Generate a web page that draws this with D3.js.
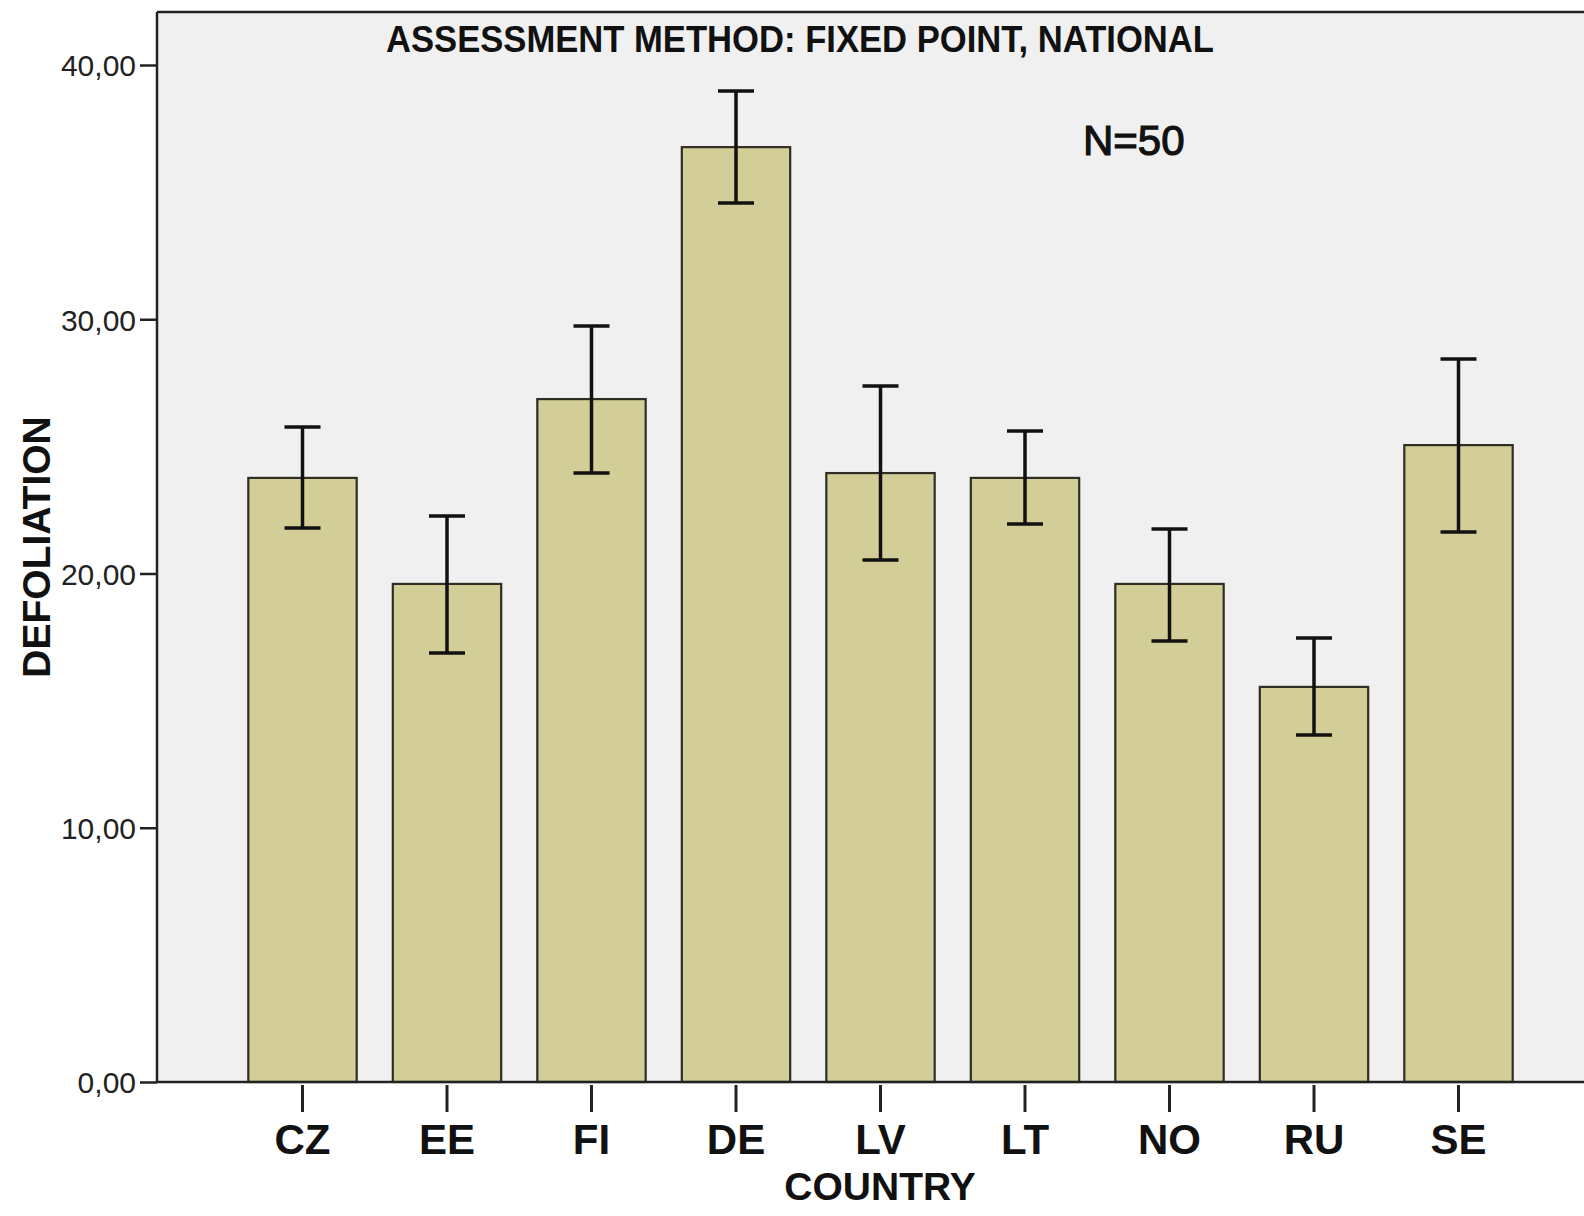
<!DOCTYPE html>
<html>
<head>
<meta charset="utf-8">
<script src="https://cdn.jsdelivr.net/npm/d3@7"></script>
<style>
  body { margin: 0; background: #fff; }
  text { font-family: "Liberation Sans", Arial, sans-serif; }
</style>
</head>
<body>
<svg class="chart-svg"></svg>
<script>
const WIDTH = 1584;
const HEIGHT = 1216;

const countries = ["CZ", "EE", "FI", "DE", "LV", "LT", "NO", "RU", "SE"];
const means = [23.76, 19.59, 26.86, 36.77, 23.95, 23.76, 19.59, 15.54, 25.05];
const errLow = [21.79, 16.87, 23.95, 34.57, 20.53, 21.95, 17.35, 13.65, 21.63];
const errHigh = [25.76, 22.26, 29.73, 38.98, 27.37, 25.6, 21.75, 17.46, 28.44];
const yTicks = [0, 10, 20, 30, 40];

const data = countries.map((c, i) => ({
  country: c,
  mean: means[i],
  lo: errLow[i],
  hi: errHigh[i]
}));

const LEFT = 157;
const TOP = 12;
const BOTTOM = 1082;

const svg = d3
  .select(".chart-svg")
  .attr("width", WIDTH)
  .attr("height", HEIGHT);

const x = d3
  .scaleBand()
  .domain(countries)
  .range([LEFT + 1, LEFT + 1446])
  .paddingInner(0.25)
  .paddingOuter(0.625);

const y = d3
  .scaleLinear()
  .domain([0, 40])
  .range([BOTTOM, 65]);

// plot background
svg
  .append("rect")
  .attr("x", LEFT)
  .attr("y", TOP)
  .attr("width", WIDTH - LEFT)
  .attr("height", BOTTOM - TOP)
  .attr("fill", "#f0f0f0");

svg
  .append("line")
  .attr("x1", LEFT)
  .attr("x2", WIDTH)
  .attr("y1", TOP)
  .attr("y2", TOP)
  .attr("stroke", "#222")
  .attr("stroke-width", 2.5);

// bars
svg
  .selectAll(".bar")
  .data(data)
  .enter()
  .append("rect")
  .attr("class", "bar")
  .attr("x", d => x(d.country))
  .attr("y", d => y(d.mean))
  .attr("width", x.bandwidth())
  .attr("height", d => y(0) - y(d.mean))
  .attr("fill", "#d3cd98")
  .attr("stroke", "#2e2e22")
  .attr("stroke-width", 2.2);

// error bars
const errs = svg
  .selectAll(".err")
  .data(data)
  .enter()
  .append("g")
  .attr("class", "err")
  .attr("stroke", "#111")
  .attr("stroke-width", 3.5);

const cx = d => x(d.country) + x.bandwidth() / 2;
const CAP = 18;

errs
  .append("line")
  .attr("x1", cx)
  .attr("x2", cx)
  .attr("y1", d => y(d.hi))
  .attr("y2", d => y(d.lo));

errs
  .append("line")
  .attr("x1", d => cx(d) - CAP)
  .attr("x2", d => cx(d) + CAP)
  .attr("y1", d => y(d.hi))
  .attr("y2", d => y(d.hi));

errs
  .append("line")
  .attr("x1", d => cx(d) - CAP)
  .attr("x2", d => cx(d) + CAP)
  .attr("y1", d => y(d.lo))
  .attr("y2", d => y(d.lo));

// y axis
const yAxis = d3
  .axisLeft(y)
  .tickValues(yTicks)
  .tickSize(17)
  .tickPadding(4)
  .tickFormat(d => d3.format(".2f")(d).replace(".", ","));

const gy = svg
  .append("g")
  .attr("transform", `translate(${LEFT},0)`)
  .call(yAxis);

gy.select(".domain")
  .attr("d", `M0,${TOP}V${BOTTOM}`)
  .attr("stroke", "#222")
  .attr("stroke-width", 2.5);
gy.selectAll(".tick line").attr("stroke", "#222").attr("stroke-width", 2.5);
gy.selectAll(".tick text")
  .attr("font-size", 30)
  .attr("fill", "#222")
  .attr("dy", "0.36em");

// x axis
const xAxis = d3.axisBottom(x).tickSize(0).tickPadding(0);

const gx = svg
  .append("g")
  .attr("transform", `translate(0,${BOTTOM})`)
  .call(xAxis);

gx.select(".domain")
  .attr("d", `M${LEFT},0H${WIDTH}`)
  .attr("stroke", "#222")
  .attr("stroke-width", 2.5);
gx.selectAll(".tick line")
  .attr("y1", 3)
  .attr("y2", 30)
  .attr("stroke", "#222")
  .attr("stroke-width", 3);
gx.selectAll(".tick text")
  .attr("y", 72)
  .attr("dy", 0)
  .attr("font-size", 42)
  .attr("font-weight", "bold")
  .attr("fill", "#111");

// titles
svg
  .append("text")
  .attr("x", 386)
  .attr("y", 52)
  .attr("font-size", 36)
  .attr("font-weight", "bold")
  .attr("textLength", 828)
  .attr("lengthAdjust", "spacingAndGlyphs")
  .attr("fill", "#111")
  .text("ASSESSMENT METHOD: FIXED POINT, NATIONAL");

svg
  .append("text")
  .attr("x", 1083)
  .attr("y", 155)
  .attr("font-size", 42)
  .attr("fill", "#111")
  .attr("stroke", "#111")
  .attr("stroke-width", 1.2)
  .text("N=50");

svg
  .append("text")
  .attr("x", 880)
  .attr("y", 1200)
  .attr("text-anchor", "middle")
  .attr("font-size", 39)
  .attr("font-weight", "bold")
  .attr("fill", "#111")
  .text("COUNTRY");

svg
  .append("text")
  .attr("transform", "translate(50,547) rotate(-90)")
  .attr("text-anchor", "middle")
  .attr("font-size", 39)
  .attr("font-weight", "bold")
  .attr("fill", "#111")
  .text("DEFOLIATION");
</script>
</body>
</html>
